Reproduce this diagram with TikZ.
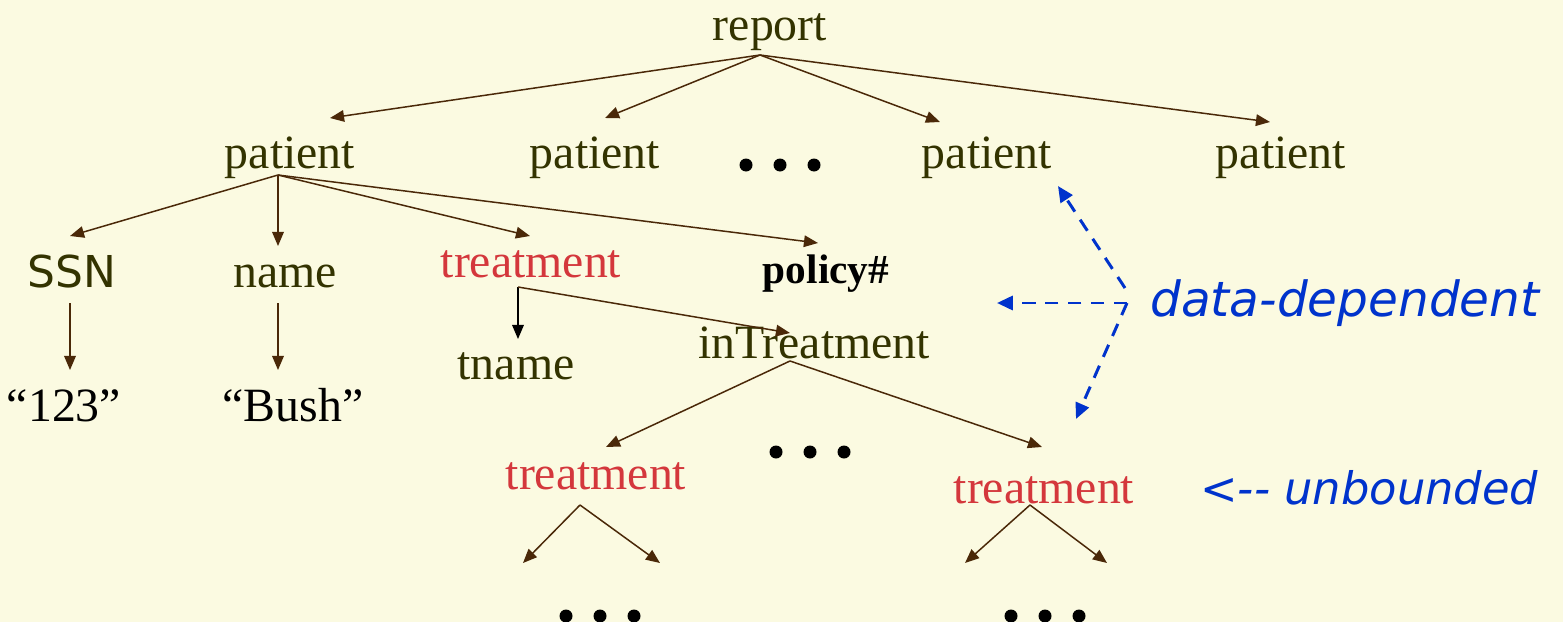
\documentclass[tikz,border=0pt]{standalone}
\usepackage{fontspec}
\setmainfont{Liberation Serif}
\newfontfamily\comic{DejaVu Sans}
\usetikzlibrary{arrows.meta}
\definecolor{bg}{HTML}{FBFAE1}
\definecolor{olive}{HTML}{333300}
\definecolor{brn}{HTML}{4A2808}
\definecolor{redt}{HTML}{D4373C}
\definecolor{blu}{HTML}{0033CC}
\tikzset{
  lbl/.style={anchor=base, inner sep=0pt, text=olive, font=\fontsize{27.2}{30}\selectfont},
  redlbl/.style={lbl, text=redt},
  blk/.style={lbl, text=black},
  edge/.style={draw=brn, line width=0.85pt, -{Triangle[length=8pt,width=6.6pt]}},
  bedge/.style={edge, draw=black, -{Triangle[length=8pt,width=6.6pt]}},
  bluearr/.style={draw=blu, line width=1.7pt, dash pattern=on 7.5pt off 5.5pt, -{Triangle[length=9pt,width=8pt]}},
  bluetxt/.style={anchor=base west, inner sep=0pt, text=blu, font=\comic\itshape\fontsize{27.6}{30}\selectfont},
  dot/.style={fill=black}
}
\begin{document}
\begin{tikzpicture}[x=0.02cm, y=-0.02cm]
\fill[bg] (0,0) rectangle (1563,622);
\useasboundingbox (0,0) rectangle (1563,622);
% nodes
\node[lbl] (report) at (770,40) {report};
\node[lbl] (p1) at (290,168) {patient};
\node[lbl] (p2) at (595,168) {patient};
\node[lbl] (p3) at (987,168) {patient};
\node[lbl] (p4) at (1281,168) {patient};
\node[lbl, font=\comic\fontsize{25}{28}\selectfont] (ssn) at (72,287) {SSN};
\node[lbl] (name) at (285,287) {name};
\node[redlbl] (tr1) at (531,277) {treatment};
\node[blk, font=\bfseries\fontsize{23.5}{28}\selectfont] (pol) at (826,283) {policy\#};
\node[blk] (n123) at (64,421) {“123”};
\node[blk] (bush) at (293,421) {“Bush”};
\node[lbl] (tname) at (516,379) {tname};
\node[lbl] (intr) at (814,358) {inTreatment};
\node[redlbl] (tr2) at (596,489) {treatment};
\node[redlbl] (tr3) at (1044,503) {treatment};
\node[bluetxt] (dd) at (1150,316) {data-dependent};
\node[bluetxt, font=\comic\itshape\fontsize{25.5}{28}\selectfont] (ub) at (1200,504) {<-- unbounded};
% dots
\foreach \cx/\cy in {780/165, 810/452, 600/616, 1045/616}{
  \foreach \k in {-1,0,1}{\fill[dot] (\cx+\k*34,\cy) circle (6.5);}
}
% coordinates
\coordinate (rb) at (760,55);
\coordinate (p1e) at (330,118);
\coordinate (p2e) at (605,118);
\coordinate (p3e) at (940,122);
\coordinate (p4e) at (1270,122);
\coordinate (p1b) at (278,175);
\coordinate (ssne) at (70,236);
\coordinate (namee) at (278,246);
\coordinate (tr1e) at (530,236);
\coordinate (pole) at (818,243);
\coordinate (ssnb) at (70,303);
\coordinate (n123e) at (70,370);
\coordinate (nameb) at (278,303);
\coordinate (bushe) at (278,370);
\coordinate (tr1b) at (518,287);
\coordinate (tnamee) at (518,339);
\coordinate (intre) at (790,333);
\coordinate (intrb) at (790,361);
\coordinate (tr2e) at (606,447);
\coordinate (tr3e) at (1042,447);
\coordinate (tr2b) at (580,505);
\coordinate (tr2l) at (523,563);
\coordinate (tr2r) at (660,563);
\coordinate (tr3b) at (1030,505);
\coordinate (tr3l) at (965,563);
\coordinate (tr3r) at (1107,563);
\coordinate (bj) at (1127,303);
\coordinate (bu) at (1125,288);
\coordinate (bue) at (1058,186);
\coordinate (bhe) at (997,303);
\coordinate (bde) at (1076,419);
% edges
\foreach \e in {p1e,p2e,p3e,p4e}{\draw[edge] (rb) -- (\e);}
\foreach \e in {ssne,namee,tr1e,pole}{\draw[edge] (p1b) -- (\e);}
\draw[edge] (ssnb) -- (n123e);
\draw[edge] (nameb) -- (bushe);
\draw[bedge] (tr1b) -- (tnamee);
\draw[edge] (tr1b) -- (intre);
\draw[edge] (intrb) -- (tr2e);
\draw[edge] (intrb) -- (tr3e);
\draw[edge] (tr2b) -- (tr2l);
\draw[edge] (tr2b) -- (tr2r);
\draw[edge] (tr3b) -- (tr3l);
\draw[edge] (tr3b) -- (tr3r);
% blue dashed
\draw[bluearr] (bu) -- (bue);
\draw[bluearr] (bj) -- (bhe);
\draw[bluearr] (bj) -- (bde);
\end{tikzpicture}
\end{document}
